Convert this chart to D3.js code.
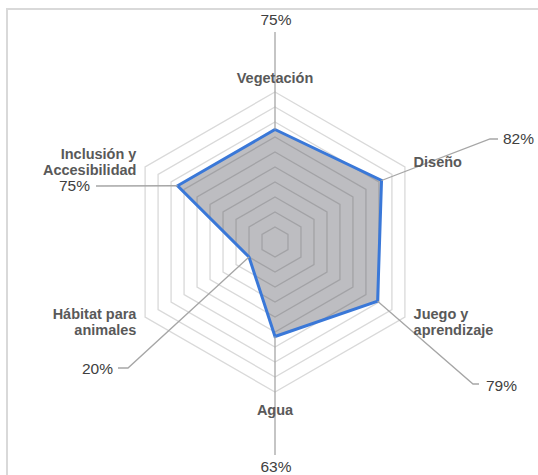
<!DOCTYPE html>
<html lang="es">
<head>
<meta charset="UTF-8">
<title>Radar</title>
<script src="https://d3js.org/d3.v7.min.js"></script>
<style>
  body { margin: 0; background: #fff; font-family: "Liberation Sans", Arial, sans-serif; }
  .cat { font-size: 14.5px; font-weight: bold; fill: #595959; }
  .pct { font-size: 15.5px; fill: #404040; }
</style>
</head>
<body>
<svg id="chart"></svg>
<script>
// data
const categories = [["Vegetación"], ["Diseño"], ["Juego y", "aprendizaje"], ["Agua"], ["Hábitat para", "animales"], ["Inclusión y", "Accesibilidad"]];
const values = [75, 82, 79, 63, 20, 75];
const ringTicks = [10, 20, 30, 40, 50, 60, 70, 80, 90, 100];

// layout of the dragged data labels (offsets from the centre)
const labelLayout = [
  {elbow: [0, -210], end: [0, -210], text: [1, -222], anchor: "middle"},
  {elbow: [215, -103], end: [223, -103], text: [228, -103], anchor: "start"},
  {elbow: [198, 142], end: [204, 142], text: [211, 144], anchor: "start"},
  {elbow: [0, 213], end: [0, 213], text: [1, 225], anchor: "middle"},
  {elbow: [-147, 126], end: [-157, 126], text: [-162, 127], anchor: "end"},
  {elbow: [-179, -56], end: [-179, -56], text: [-185, -56], anchor: "end"}
];

const W = 538, H = 475;
const cx = 275, cy = 242;

const svg = d3.select("#chart").attr("width", W).attr("height", H);

// chart area border (only top/left visible)
svg.append("rect")
  .attr("x", 7).attr("y", 9).attr("width", 560).attr("height", 500)
  .attr("fill", "none").attr("stroke", "#d9d9d9").attr("stroke-width", 2);

const g = svg.append("g").attr("transform", `translate(${cx},${cy})`);

const r = d3.scaleLinear().domain([0, 100]).range([0, 150]);
const angle = d3.scalePoint().domain(d3.range(categories.length)).range([0, 2 * Math.PI * (categories.length - 1) / categories.length]);

const radial = d3.lineRadial()
  .angle((d, i) => angle(i))
  .radius(d => r(d))
  .curve(d3.curveLinearClosed);

// series area
g.append("path")
  .attr("d", radial(values))
  .attr("fill", "#bdbdc1");

// grid rings (drawn on top, semi transparent)
g.selectAll(".ring")
  .data(ringTicks)
  .enter().append("path")
  .attr("class", "ring")
  .attr("d", t => radial(categories.map(() => t)))
  .attr("fill", "none")
  .attr("stroke", "#2a2a2a")
  .attr("stroke-opacity", 0.18)
  .attr("stroke-width", 1.3);

// series outline
g.append("path")
  .attr("d", radial(values))
  .attr("fill", "none")
  .attr("stroke", "#3a78d8")
  .attr("stroke-width", 3)
  .attr("stroke-linejoin", "miter");

const pt = (v, i) => [r(v) * Math.sin(angle(i)), -r(v) * Math.cos(angle(i))];

// leader lines
g.selectAll(".leader")
  .data(values)
  .enter().append("polyline")
  .attr("class", "leader")
  .attr("points", (v, i) => [pt(v, i), labelLayout[i].elbow, labelLayout[i].end].map(p => p.join(",")).join(" "))
  .attr("fill", "none")
  .attr("stroke", "#a6a6a6")
  .attr("stroke-width", 1.3);

// data labels
g.selectAll(".pct")
  .data(values)
  .enter().append("text")
  .attr("class", "pct")
  .attr("x", (v, i) => labelLayout[i].text[0])
  .attr("y", (v, i) => labelLayout[i].text[1])
  .attr("dy", "0.35em")
  .attr("text-anchor", (v, i) => labelLayout[i].anchor)
  .text(v => v + "%");

// category labels
const labelR = 160, lineH = 16.5;
categories.forEach((lines, i) => {
  const a = angle(i);
  const s = Math.sin(a), c = Math.cos(a);
  let x = labelR * s, anchor = "middle", yTop;
  const blockH = lines.length * lineH;
  if (Math.abs(s) < 0.01) {
    yTop = c > 0 ? -labelR - blockH + 4 : labelR;
  } else {
    anchor = s > 0 ? "start" : "end";
    yTop = -labelR * c - blockH / 2;
  }
  const t = g.append("text").attr("class", "cat").attr("text-anchor", anchor);
  lines.forEach((ln, j) => {
    t.append("tspan")
      .attr("x", x)
      .attr("y", yTop + lineH * j + lineH / 2)
      .attr("dy", "0.35em")
      .text(ln);
  });
});
</script>
</body>
</html>
